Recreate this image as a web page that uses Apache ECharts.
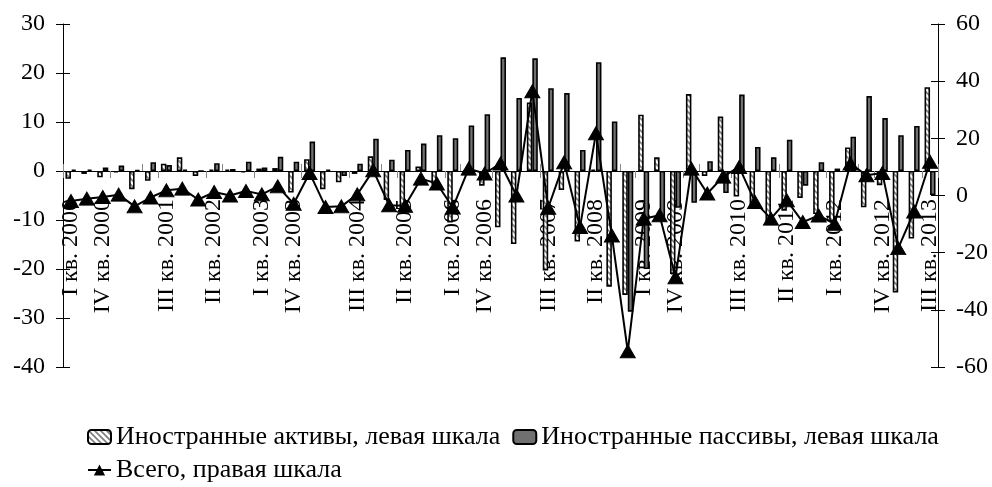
<!DOCTYPE html>
<html><head><meta charset="utf-8">
<script src="https://cdn.jsdelivr.net/npm/echarts@6/dist/echarts.min.js"></script>
<style>html,body{margin:0;padding:0;background:#fff}#c{width:992px;height:487px}</style>
</head><body><div id="c"></div>
<script>
const categories = [
 'I кв. 2000','II кв. 2000','III кв. 2000','IV кв. 2000',
 'I кв. 2001','II кв. 2001','III кв. 2001','IV кв. 2001',
 'I кв. 2002','II кв. 2002','III кв. 2002','IV кв. 2002',
 'I кв. 2003','II кв. 2003','III кв. 2003','IV кв. 2003',
 'I кв. 2004','II кв. 2004','III кв. 2004','IV кв. 2004',
 'I кв. 2005','II кв. 2005','III кв. 2005','IV кв. 2005',
 'I кв. 2006','II кв. 2006','III кв. 2006','IV кв. 2006',
 'I кв. 2007','II кв. 2007','III кв. 2007','IV кв. 2007',
 'I кв. 2008','II кв. 2008','III кв. 2008','IV кв. 2008',
 'I кв. 2009','II кв. 2009','III кв. 2009','IV кв. 2009',
 'I кв. 2010','II кв. 2010','III кв. 2010','IV кв. 2010',
 'I кв. 2011','II кв. 2011','III кв. 2011','IV кв. 2011',
 'I кв. 2012','II кв. 2012','III кв. 2012','IV кв. 2012',
 'I кв. 2013','II кв. 2013','III кв. 2013'
];
const assets = [
 -1.6,-0.6,-1.3,-0.3, -3.7,-2.0,1.5,2.8, -1.0,0.3,0.3,-0.3, 0.5,0.6,-4.4,2.4,
 -3.7,-2.3,-0.6,3.0, -5.9,-7.9,0.9,-2.8, -10.5,0.2,-3.0,-11.5, -14.9,14.0,-20.3,-3.9,
 -14.4,0.3,-23.6,-25.3, 11.5,2.8,-21.0,15.7, -1.0,11.1,-5.2,-7.2, -10.9,-8.1,-5.5,-8.8,
 -10.3,4.8,-7.4,-2.9, -24.8,-13.8,17.1
];
const liabilities = [
 0.3,0.3,0.7,1.1, 0.2,1.8,1.2,0.3, 0.0,1.6,0.4,1.9, 0.7,2.9,1.9,6.0,
 0.3,-1.0,1.5,6.6, 2.3,4.3,5.6,7.3, 6.7,9.3,11.6,23.2, 14.9,23.0,16.9,15.9,
 4.3,22.2,10.1,-28.7, -20.0,-9.7,-7.5,-6.5, 2.0,-4.5,15.6,4.9, 2.8,6.4,-3.0,1.8,
 0.5,7.0,15.3,10.8, 7.3,9.2,-4.9
];
const total = [
 -1.9,-1.1,-0.5,0.3, -3.8,-0.7,1.8,2.4, -1.4,1.2,0.0,1.6, 0.4,3.2,-2.9,7.9,
 -4.0,-3.8,0.4,8.8, -3.4,-3.6,5.9,4.2, -4.2,9.4,7.7,11.2, 0.0,36.5,-4.3,11.6,
 -11.0,21.8,-14.0,-54.5, -8.1,-6.9,-28.6,9.4, 0.7,6.6,10.0,-2.3, -8.1,-1.7,-9.3,-7.0,
 -9.9,11.2,7.1,7.9, -18.4,-5.6,11.8
];
const leftTicks = [-40,-30,-20,-10,0,10,20,30];
const rightTicks = [-60,-40,-20,0,20,40,60];
const seriesNames = ['Иностранные активы, левая шкала','Иностранные пассивы, левая шкала','Всего, правая шкала'];
const shiftedLabels = ['IV кв. 2000','IV кв. 2003','IV кв. 2006','IV кв. 2009'];

const FONT = "'Liberation Serif','Times New Roman',serif";
const GRID = {left:63, right:54, top:24, bottom:120};
const plotH = 487 - GRID.top - GRID.bottom;
const lMin = leftTicks[0], lMax = leftTicks[leftTicks.length-1];
// x axis sits at the left axis' zero
const xOffset = -plotH * (0 - lMin) / (lMax - lMin);

function hatch(){
  const c=document.createElement('canvas'); c.width=6; c.height=6;
  const g=c.getContext('2d');
  g.fillStyle='#fff'; g.fillRect(0,0,6,6);
  g.strokeStyle='#808080'; g.lineWidth=1.7;
  g.beginPath();
  g.moveTo(0,0); g.lineTo(6,6);
  g.moveTo(-3,3); g.lineTo(3,9);
  g.moveTo(3,-3); g.lineTo(9,3);
  g.stroke();
  return c;
}
const chart = echarts.init(document.getElementById('c'), null, {renderer:'canvas'});
const lt = {fontSize:26, fontFamily:FONT, color:'#000'};
const yBase = (ticks, pos) => ({
  type:'value', position:pos, min:ticks[0], max:ticks[ticks.length-1], interval:ticks[1]-ticks[0],
  splitLine:{show:false},
  axisLine:{show:true, onZero:false, lineStyle:{color:'#000', width:1}},
  axisTick:{show:true, length:7, lineStyle:{color:'#000', width:1}},
  axisLabel:{show:true, margin:18, fontSize:24, fontFamily:FONT, color:'#000'}
});
const yInner = (ticks, pos) => ({
  type:'value', position:pos, min:ticks[0], max:ticks[ticks.length-1], interval:ticks[1]-ticks[0],
  splitLine:{show:false}, axisLine:{show:false, onZero:false},
  axisTick:{show:true, inside:true, length:7, lineStyle:{color:'#000', width:1}},
  axisLabel:{show:false}
});
chart.setOption({
  animation:false,
  backgroundColor:'#fff',
  grid:Object.assign({containLabel:false, outerBoundsMode:'none'}, GRID),
  xAxis:[{
    type:'category', data:categories, position:'bottom', offset:xOffset,
    axisLine:{onZero:false, lineStyle:{color:'#000', width:1}},
    axisTick:{show:true, length:7, lineStyle:{color:'#888', width:1}},
    axisLabel:{interval:2, rotate:90, margin:28, fontSize:24, fontFamily:FONT, color:'#000',
      formatter:v => shiftedLabels.includes(v) ? '{s|'+v+'}' : v,
      rich:{s:{padding:[0,0,32,0], fontSize:24, fontFamily:FONT, color:'#000'}}}
  },{
    type:'category', data:categories, position:'bottom', offset:xOffset,
    axisLine:{show:false, onZero:false},
    axisTick:{show:true, inside:true, length:7, lineStyle:{color:'#888', width:1}},
    axisLabel:{show:false}
  }],
  yAxis:[yBase(leftTicks,'left'), yBase(rightTicks,'right'), yInner(leftTicks,'left'), yInner(rightTicks,'right')],
  legend:[{
    data:[seriesNames[0], seriesNames[1]], left:87, top:424, padding:0, itemWidth:23, itemHeight:14, itemGap:12,
    textStyle:lt, selectedMode:false
  },{
    data:[seriesNames[2]], left:87, top:457, padding:0, itemWidth:23, itemHeight:14,
    textStyle:lt, selectedMode:false
  }],
  series:[{
    name:seriesNames[0], type:'bar', data:assets, barWidth:5.5, barGap:'0%',
    itemStyle:{color:{image:hatch(), repeat:'repeat'}, borderColor:'#000', borderWidth:1.6}, z:2
  },{
    name:seriesNames[1], type:'bar', data:liabilities, barWidth:5.5,
    itemStyle:{color:'#707070', borderColor:'#000', borderWidth:1.6}, z:2
  },{
    name:seriesNames[2], type:'line', yAxisIndex:1, data:total,
    symbol:'triangle', symbolSize:[15,13], showAllSymbol:true,
    lineStyle:{color:'#000', width:2}, itemStyle:{color:'#000', borderColor:'#000'}, z:5
  }]
});
</script></body></html>
